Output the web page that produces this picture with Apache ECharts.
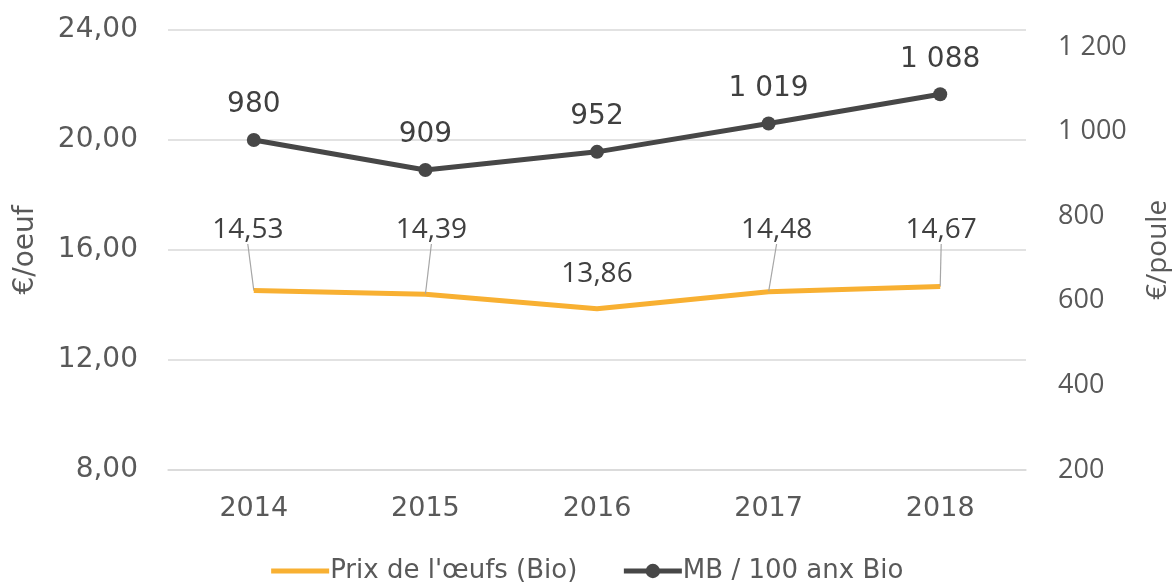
<!DOCTYPE html>
<html>
<head>
<meta charset="utf-8">
<script src="https://cdn.jsdelivr.net/npm/echarts@6/dist/echarts.min.js"></script>
<style>
  html, body { margin: 0; padding: 0; background: #fff; }
  #chart { width: 1172px; height: 583px; }
</style>
</head>
<body>
<div id="chart"></div>
<script>
// données
var years = ['2014', '2015', '2016', '2017', '2018'];
var prixOeuf = [14.53, 14.39, 13.86, 14.48, 14.67];   // €/oeuf
var margePoule = [980, 909, 952, 1019, 1088];          // €/poule
var nomPrix = "Prix de l'œufs (Bio)";
var nomMarge = 'MB / 100 anx Bio';

var geo = 'DejaVu Sans';
var cal = 'Open Sans';
var or = '#F8B032';
var gris = '#474747';

function milliers(v) {
  return String(v).replace(/\B(?=(\d{3})+(?!\d))/g, ' ');
}

var myChart = echarts.init(document.getElementById('chart'));

// 13,86 : étiquette sans trait de rappel
var prixData = prixOeuf.map(function (v, i) {
  return i === 2 ? { value: v, labelLine: { show: false } } : v;
});

var option = {
  animation: false,
  grid: { left: 168, right: 146, top: 30, bottom: 113, outerBoundsMode: 'none', containLabel: false },
  legend: {
    bottom: -6,
    left: 'center',
    itemWidth: 58,
    itemHeight: 18,
    itemGap: 44,
    textStyle: { fontFamily: geo, fontSize: 26, color: '#595959', padding: [0, 0, 0, -4] },
    data: [
      { name: nomPrix, itemStyle: { color: 'rgba(0,0,0,0)' }, lineStyle: { color: or, width: 5 } },
      { name: nomMarge, lineStyle: { color: gris, width: 5 } }
    ]
  },
  xAxis: {
    type: 'category',
    data: years,
    axisLine: { lineStyle: { color: '#d9d9d9', width: 1.5 } },
    axisTick: { show: false },
    axisLabel: { fontFamily: geo, fontSize: 27, color: '#595959', margin: 25 }
  },
  yAxis: [{
    type: 'value',
    min: 8, max: 24, interval: 4,
    name: '€/oeuf',
    nameLocation: 'middle',
    nameRotate: 90,
    nameGap: 128,
    nameTextStyle: { fontFamily: geo, fontSize: 28, color: '#595959' },
    axisLine: { show: false },
    axisTick: { show: false },
    splitLine: { lineStyle: { color: '#d9d9d9', width: 1.5 } },
    axisLabel: {
      fontFamily: geo, fontSize: 28, color: '#595959', margin: 30,
      formatter: function (v) { return v.toFixed(2).replace('.', ','); }
    }
  }, {
    type: 'value',
    min: 200, max: 1240, interval: 200,
    name: '€/poule',
    nameLocation: 'middle',
    nameRotate: 90,
    nameGap: 118,
    nameTextStyle: { fontFamily: cal, fontSize: 28, color: '#595959', padding: [0, 0, 30, 0] },
    axisLine: { show: false },
    axisTick: { show: false },
    splitLine: { show: false },
    axisLabel: {
      fontFamily: cal, fontSize: 27, color: '#595959', margin: 32,
      formatter: function (v) { return v % 200 ? '' : milliers(v); }
    }
  }],
  series: [{
    name: nomPrix,
    type: 'line',
    yAxisIndex: 0,
    data: prixData,
    symbol: 'circle',
    symbolSize: 1,
    lineStyle: { color: or, width: 5 },
    itemStyle: { color: or },
    label: {
      show: true,
      position: 'top',
      distance: 20,
      fontFamily: cal,
      fontSize: 28,
      color: '#404040',
      formatter: function (p) { return p.value.toFixed(2).replace('.', ','); }
    },
    labelLine: { show: true, lineStyle: { color: '#a6a6a6', width: 1.2 } },
    labelLayout: function (p) {
      var dxs = [-6, 6, 0, 8, 1];
      if (p.dataIndex === 2) return {};
      return { dy: -(p.labelRect.y + p.labelRect.height / 2 - 230), dx: dxs[p.dataIndex] };
    }
  }, {
    name: nomMarge,
    type: 'line',
    yAxisIndex: 1,
    data: margePoule,
    symbol: 'circle',
    symbolSize: 14,
    lineStyle: { color: gris, width: 5 },
    itemStyle: { color: gris },
    label: {
      show: true,
      position: 'top',
      distance: 14,
      fontFamily: geo,
      fontSize: 28,
      color: '#404040',
      formatter: function (p) { return milliers(p.value); }
    }
  }]
};

myChart.setOption(option);
</script>
</body>
</html>
